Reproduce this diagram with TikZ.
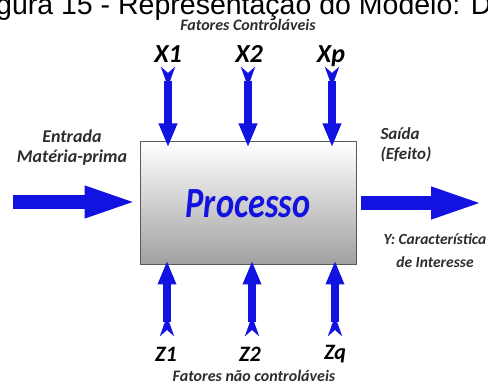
\documentclass[tikz,border=0pt]{standalone}
\usepackage{fontspec}
\setmainfont{Liberation Sans}
\newfontfamily\lblfont{Carlito}
\newfontfamily\procfont[FakeStretch=0.8]{Carlito}
\usetikzlibrary{arrows.meta,positioning}
\definecolor{seta}{RGB}{18,18,225}
\definecolor{rotulo}{RGB}{45,45,45}

\begin{document}
\begin{tikzpicture}[x=1pt, y=-1pt,
  caixa/.style={draw=gray!70!black, line width=1pt, top color=white, middle color=white, bottom color=gray!75,
    minimum width=216pt, minimum height=123pt, font=\procfont\bfseries\itshape\fontsize{43}{43}\selectfont, text=seta},
  lbl/.style={font=\lblfont\bfseries\itshape\fontsize{17}{20}\selectfont, text=rotulo, align=center},
  var/.style={font=\lblfont\bfseries\itshape\fontsize{26}{26}\selectfont, text=black, inner sep=0pt, anchor=base},
  fator/.style={seta, line width=8pt, {Stealth[reversed, length=20pt, width=14pt, inset=6pt]}-{Triangle[length=24pt, width=17pt]}},
  fluxo/.style={seta, line width=14pt, -{Triangle[length=55pt, width=28pt]}}]
\useasboundingbox (0,0) rectangle (488,387);
\node[anchor=base west, inner sep=0pt, font=\fontsize{28.5}{28.5}\selectfont] (titulo) at (-4,15) {gura 15 - Representação do Modelo: D};
% caixa do processo
\node[caixa] (proc) at (248,203.5) {Processo};
% fatores controlaveis
\node[lbl, font=\lblfont\bfseries\itshape\fontsize{16}{20}\selectfont] (ctrl) at (248,25) {Fatores Controláveis};
\node[var] (x1) at (168,63) {X1};
\node[var] (x2) at (249,63) {X2};
\node[var] (xp) at (331,63) {Xp};
\coordinate (t1) at (168,67);
\coordinate (t2) at (248,67);
\coordinate (tp) at (332,67);
\draw[fator, shorten >=-6pt] (t1) -- (t1 |- proc.north);
\draw[fator, shorten >=-6pt] (t2) -- (t2 |- proc.north);
\draw[fator, shorten >=-6pt] (tp) -- (tp |- proc.north);
% fatores nao controlaveis
\coordinate (b1) at (167,336);
\coordinate (b2) at (252,336);
\coordinate (bq) at (335,336);
\draw[fator, shorten >=-5pt] (b1) -- (b1 |- proc.south);
\draw[fator, shorten >=-5pt] (b2) -- (b2 |- proc.south);
\draw[fator, shorten >=-5pt] (bq) -- (bq |- proc.south);
\node[var, font=\lblfont\bfseries\itshape\fontsize{22}{22}\selectfont] (z1) at (166,362) {Z1};
\node[var, font=\lblfont\bfseries\itshape\fontsize{22}{22}\selectfont] (z2) at (250,362) {Z2};
\node[var, font=\lblfont\bfseries\itshape\fontsize{22}{22}\selectfont] (zq) at (335,360) {Zq};
\node[lbl, font=\lblfont\bfseries\itshape\fontsize{16}{20}\selectfont] (nctrl) at (254,376) {Fatores não controláveis};
% entrada e saida
\node[lbl, font=\lblfont\bfseries\itshape\fontsize{18}{20}\selectfont] (ent) at (72,148) {Entrada\\Matéria-prima};
\coordinate (e0) at (13,202);
\draw[fluxo] (e0) -- (e0 -| proc.west);
\node[lbl, align=left, anchor=west] (sai) at (377,145) {Saída\\(Efeito)};
\coordinate (s0) at (486,203);
\draw[fluxo] ([xshift=4pt]s0 -| proc.east) -- (s0);
\node[lbl, font=\lblfont\bfseries\itshape\fontsize{15.5}{23}\selectfont] (carac) at (435,251) {Y: Característica\\de Interesse};
\end{tikzpicture}
\end{document}
